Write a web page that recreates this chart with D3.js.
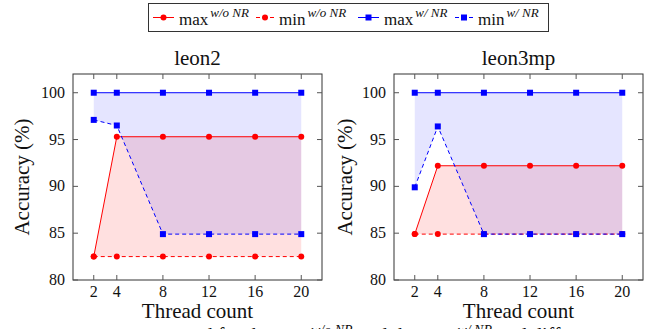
<!DOCTYPE html>
<html><head><meta charset="utf-8">
<script src="https://cdn.jsdelivr.net/npm/d3@7"></script>
<style>
html,body{margin:0;padding:0;background:#fff;}
svg{display:block;}
svg text{font-family:"Liberation Serif","Times New Roman",Times,"DejaVu Serif","Noto Serif",serif;}
</style></head>
<body><svg id="c" width="664" height="329"></svg>
<script>
const threads = [2, 4, 8, 12, 16, 20];
const xTicks = [2, 4, 8, 12, 16, 20];
const yTicks = [80, 85, 90, 95, 100];
const titles = ["leon2", "leon3mp"];
const leon2MaxWo = [82.5, 95.3, 95.3, 95.3, 95.3, 95.3];
const leon2MinWo = [82.5, 82.5, 82.5, 82.5, 82.5, 82.5];
const leon2MaxW  = [100, 100, 100, 100, 100, 100];
const leon2MinW  = [97.1, 96.5, 84.9, 84.9, 84.9, 84.9];
const leon3MaxWo = [84.9, 92.2, 92.2, 92.2, 92.2, 92.2];
const leon3MinWo = [84.9, 84.9, 84.9, 84.9, 84.9, 84.9];
const leon3MaxW  = [100, 100, 100, 100, 100, 100];
const leon3MinW  = [89.9, 96.4, 84.9, 84.9, 84.9, 84.9];
const legendMain = ["max", "min", "max", "min"];
const legendSup = ["w/o NR", "w/o NR", "w/ NR", "w/ NR"];

const svg = d3.select("#c");
const RED = "#ff0000", BLUE = "#0000ff";
const FONT = '"Liberation Serif","Times New Roman",Times,"DejaVu Serif",serif';

const panels = [
  {x0: 73, x1: 322, title: titles[0], maxWo: leon2MaxWo, minWo: leon2MinWo, maxW: leon2MaxW, minW: leon2MinW, ylab: 29},
  {x0: 394, x1: 643, title: titles[1], maxWo: leon3MaxWo, minWo: leon3MinWo, maxW: leon3MaxW, minW: leon3MinW, ylab: 352}
];
const plotTop = 74, plotBottom = 280;

panels.forEach(p => {
  const x = d3.scaleLinear().domain([0.2, 21.8]).range([p.x0, p.x1]);
  const y = d3.scaleLinear().domain([80, 102]).range([plotBottom, plotTop]);
  const g = svg.append("g").attr("font-family", FONT);
  const pts = k => threads.map((t, i) => ({t, v: p[k][i]}));
  const area = (hi, lo) => d3.area().x((d, i) => x(threads[i])).y0((d, i) => y(p[lo][i])).y1((d, i) => y(p[hi][i]));
  g.append("path").datum(threads).attr("d", area("maxWo", "minWo")).attr("fill", RED).attr("fill-opacity", 0.12);
  g.append("path").datum(threads).attr("d", area("maxW", "minW")).attr("fill", BLUE).attr("fill-opacity", 0.1);
  g.append("rect").attr("x", p.x0).attr("y", plotTop).attr("width", p.x1 - p.x0).attr("height", plotBottom - plotTop)
    .attr("fill", "none").attr("stroke", "#333").attr("stroke-width", 1);
  const tk = 5;
  xTicks.forEach(t => {
    g.append("line").attr("x1", x(t)).attr("x2", x(t)).attr("y1", plotBottom).attr("y2", plotBottom - tk).attr("stroke", "#555");
    g.append("line").attr("x1", x(t)).attr("x2", x(t)).attr("y1", plotTop).attr("y2", plotTop + tk).attr("stroke", "#555");
    g.append("text").attr("x", x(t)).attr("y", 297).attr("text-anchor", "middle").attr("font-size", 16).attr("fill", "#111").text(t);
  });
  yTicks.forEach(t => {
    g.append("line").attr("x1", p.x0).attr("x2", p.x0 + tk).attr("y1", y(t)).attr("y2", y(t)).attr("stroke", "#555");
    g.append("line").attr("x1", p.x1).attr("x2", p.x1 - tk).attr("y1", y(t)).attr("y2", y(t)).attr("stroke", "#555");
    g.append("text").attr("x", p.x0 - 8).attr("y", y(t) + 5).attr("text-anchor", "end").attr("font-size", 16).attr("fill", "#111").text(t);
  });
  const line = d3.line().x(d => x(d.t)).y(d => y(d.v));
  const series = [
    {k: "maxWo", c: RED, dash: null, m: "c"},
    {k: "minWo", c: RED, dash: "4,3", m: "c"},
    {k: "maxW", c: BLUE, dash: null, m: "s"},
    {k: "minW", c: BLUE, dash: "4,3", m: "s"}
  ];
  series.forEach(s => {
    g.append("path").datum(pts(s.k)).attr("d", line).attr("fill", "none").attr("stroke", s.c)
      .attr("stroke-width", 1).attr("stroke-dasharray", s.dash);
  });
  series.forEach(s => {
    pts(s.k).forEach(d => {
      if (s.m === "c") g.append("circle").attr("cx", x(d.t)).attr("cy", y(d.v)).attr("r", 3).attr("fill", s.c);
      else g.append("rect").attr("x", x(d.t) - 3).attr("y", y(d.v) - 3).attr("width", 6).attr("height", 6).attr("fill", s.c);
    });
  });
  g.append("text").attr("x", (p.x0 + p.x1) / 2).attr("y", 65).attr("text-anchor", "middle").attr("font-size", 21).attr("fill", "#111").text(p.title);
  g.append("text").attr("x", (p.x0 + p.x1) / 2).attr("y", 318).attr("text-anchor", "middle").attr("font-size", 21).attr("fill", "#111").text("Thread count");
  g.append("text").attr("transform", `translate(${p.ylab},177) rotate(-90)`).attr("text-anchor", "middle").attr("font-size", 21).attr("fill", "#111").text("Accuracy (%)");
});

const lg = svg.append("g").attr("font-family", FONT);
lg.append("rect").attr("x", 148.5).attr("y", 3.5).attr("width", 400).attr("height", 28).attr("fill", "#fff").attr("stroke", "#333");
const lx = [153, 256, 358, 455];
legendMain.forEach((m, i) => {
  const c = i < 2 ? RED : BLUE;
  const dash = i % 2 === 1;
  const x0 = lx[i], x1 = x0 + (dash ? 18 : 21);
  lg.append("line").attr("x1", x0).attr("x2", x1).attr("y1", 17.5).attr("y2", 17.5).attr("stroke", c).attr("stroke-dasharray", dash ? "4,3" : null);
  const mx = (x0 + x1) / 2;
  if (i < 2) lg.append("circle").attr("cx", mx).attr("cy", 17.5).attr("r", 3).attr("fill", c);
  else lg.append("rect").attr("x", mx - 3).attr("y", 14.5).attr("width", 6).attr("height", 6).attr("fill", c);
  const t = lg.append("text").attr("x", x1 + 5).attr("y", 25).attr("font-size", 17).attr("fill", "#111");
  t.append("tspan").text(m);
  t.append("tspan").attr("dy", -8).attr("dx", 2).attr("font-size", 13).attr("font-style", "italic").text(legendSup[i]);
});

// caption, cut off by the bottom edge as in the reference: one flowing text
const cap = svg.append("text").attr("font-family", FONT).attr("fill", "#111").attr("font-size", 20).attr("y", 342);
const first = cap.append("tspan").text("and for the max");
cap.append("tspan").attr("dx", 1).attr("dy", -7).attr("font-size", 14).attr("font-style", "italic").text("w/o NR");
cap.append("tspan").attr("dx", 6).attr("dy", 7).text("and the max");
cap.append("tspan").attr("dx", 1).attr("dy", -7).attr("font-size", 14).attr("font-style", "italic").text("w/ NR");
cap.append("tspan").attr("dx", 6).attr("dy", 7).text("and diff");
cap.attr("x", 310 - first.node().getComputedTextLength());
</script></body></html>
